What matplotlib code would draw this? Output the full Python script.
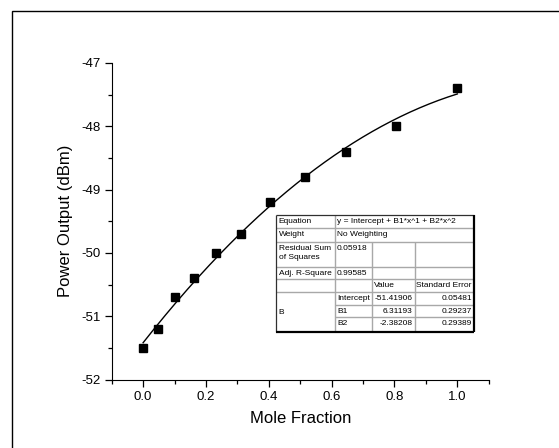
import matplotlib
matplotlib.use("Agg")
import matplotlib.pyplot as plt
import matplotlib.ticker as plticker
from matplotlib.patches import Rectangle
import numpy as np

plt.rcParams['font.family'] = ['Liberation Sans', 'DejaVu Sans']
plt.rcParams['axes.unicode_minus'] = False

# measured points
mole_fraction = [0.0, 0.048, 0.102, 0.163, 0.233, 0.312, 0.405, 0.514, 0.645, 0.804, 1.0]
power_dbm = [-51.5, -51.2, -50.7, -50.4, -50.0, -49.7, -49.2, -48.8, -48.4, -48.0, -47.4]

# fit result shown in the table
intercept, b1, b2 = -51.41906, 6.31193, -2.38208
err_intercept, err_b1, err_b2 = 0.05481, 0.29237, 0.29389
rss = 0.05918
adj_r2 = 0.99585

fig = plt.figure(figsize=(5.59, 4.48), dpi=100)
ax = fig.add_axes([0.1998, 0.1529, 0.6745, 0.7065])

# outer frame (only left/top visible in the crop)
fig.patches.append(Rectangle((12 / 559, -0.5), 2.0, 1.5 - 11 / 448, transform=fig.transFigure,
                             fill=False, edgecolor='black', linewidth=1.0))

x_fit = np.linspace(0, 1, 200)
y_fit = intercept + b1 * x_fit + b2 * x_fit ** 2
ax.plot(x_fit, y_fit, color='black', linewidth=1.0)
ax.plot(mole_fraction, power_dbm, linestyle='none', marker='s', markersize=5.5,
        color='black')

ax.set_xlim(-0.1, 1.1)
ax.set_ylim(-52, -47)
ax.spines['top'].set_visible(False)
ax.spines['right'].set_visible(False)
ax.xaxis.set_major_locator(plticker.MultipleLocator(0.2))
ax.xaxis.set_minor_locator(plticker.MultipleLocator(0.1))
ax.yaxis.set_major_locator(plticker.MultipleLocator(1))
ax.yaxis.set_minor_locator(plticker.MultipleLocator(0.5))
ax.xaxis.set_major_formatter(plticker.FormatStrFormatter('%.1f'))
ax.yaxis.set_major_formatter(plticker.FormatStrFormatter('%d'))
ax.tick_params(which='major', direction='out', length=5, width=0.9, labelsize=9.5, pad=3)
ax.tick_params(which='minor', direction='out', length=3, width=0.9)
ax.set_xlabel('Mole Fraction', fontsize=12, labelpad=6)
ax.set_ylabel('Power Output (dBm)', fontsize=12, labelpad=6)

# fit-results table (Origin style), in axes fraction
cx = [0.4369, 0.5915, 0.6897, 0.8045, 0.9610]
ry = [0.5197, 0.4777, 0.4354, 0.3564, 0.3175, 0.2755, 0.2354, 0.1965, 0.1510]
grey = '#a8a8a8'

def hline(y, x0, x1, c=grey, lw=1.0):
    ax.plot([x0, x1], [y, y], color=c, linewidth=lw, transform=ax.transAxes,
            clip_on=False, zorder=4, solid_capstyle='butt')

def vline(x, y0, y1, c=grey, lw=1.0):
    ax.plot([x, x], [y0, y1], color=c, linewidth=lw, transform=ax.transAxes,
            clip_on=False, zorder=4, solid_capstyle='butt')

ax.add_patch(Rectangle((cx[0], ry[-1]), cx[-1] - cx[0], ry[0] - ry[-1], transform=ax.transAxes,
                       facecolor='white', edgecolor='none', zorder=3))
for y in ry[1:6]:
    hline(y, cx[0], cx[-1])
for y in ry[6:8]:
    hline(y, cx[1], cx[-1])
vline(cx[1], ry[0], ry[-1])
vline(cx[2], ry[2], ry[-1])
vline(cx[3], ry[2], ry[-1])
# dark border
hline(ry[0], cx[0], cx[-1], c='#303030', lw=0.9)
vline(cx[0], ry[0], ry[-1], c='#303030', lw=0.9)
hline(ry[-1], cx[0], cx[-1], c='black', lw=1.6)
vline(cx[-1], ry[0], ry[-1], c='black', lw=1.6)

fs = 6.0
pad = 0.006
def cell(text, col, top, ha='left', right_col=None):
    if ha == 'left':
        x = cx[col] + pad
    else:
        x = cx[right_col] - pad
    ax.text(x, top - 0.009, text, fontsize=fs, ha=ha, va='top', transform=ax.transAxes,
            zorder=5, linespacing=1.4)

cell('Equation', 0, ry[0])
cell('y = Intercept + B1*x^1 + B2*x^2', 1, ry[0])
cell('Weight', 0, ry[1])
cell('No Weighting', 1, ry[1])
cell('Residual Sum\nof Squares', 0, ry[2])
cell(f'{rss:.5f}', 1, ry[2])
cell('Adj. R-Square', 0, ry[3])
cell(f'{adj_r2:.5f}', 1, ry[3])
cell('Value', 2, ry[4])
ax.text(cx[3] + 0.003, ry[4] - 0.009, 'Standard Error', fontsize=fs, ha='left', va='top',
        transform=ax.transAxes, zorder=5)
ax.text(cx[0] + pad, (ry[5] + ry[8]) / 2, 'B', fontsize=fs, ha='left', va='center',
        transform=ax.transAxes, zorder=5)
rows = [('Intercept', intercept, err_intercept), ('B1', b1, err_b1), ('B2', b2, err_b2)]
for i, (name, val, err) in enumerate(rows):
    top = ry[5 + i]
    cell(name, 1, top)
    cell(f'{val:.5f}', None, top, ha='right', right_col=3)
    cell(f'{err:.5f}', None, top, ha='right', right_col=4)

fig.savefig('out.png', dpi=100)
